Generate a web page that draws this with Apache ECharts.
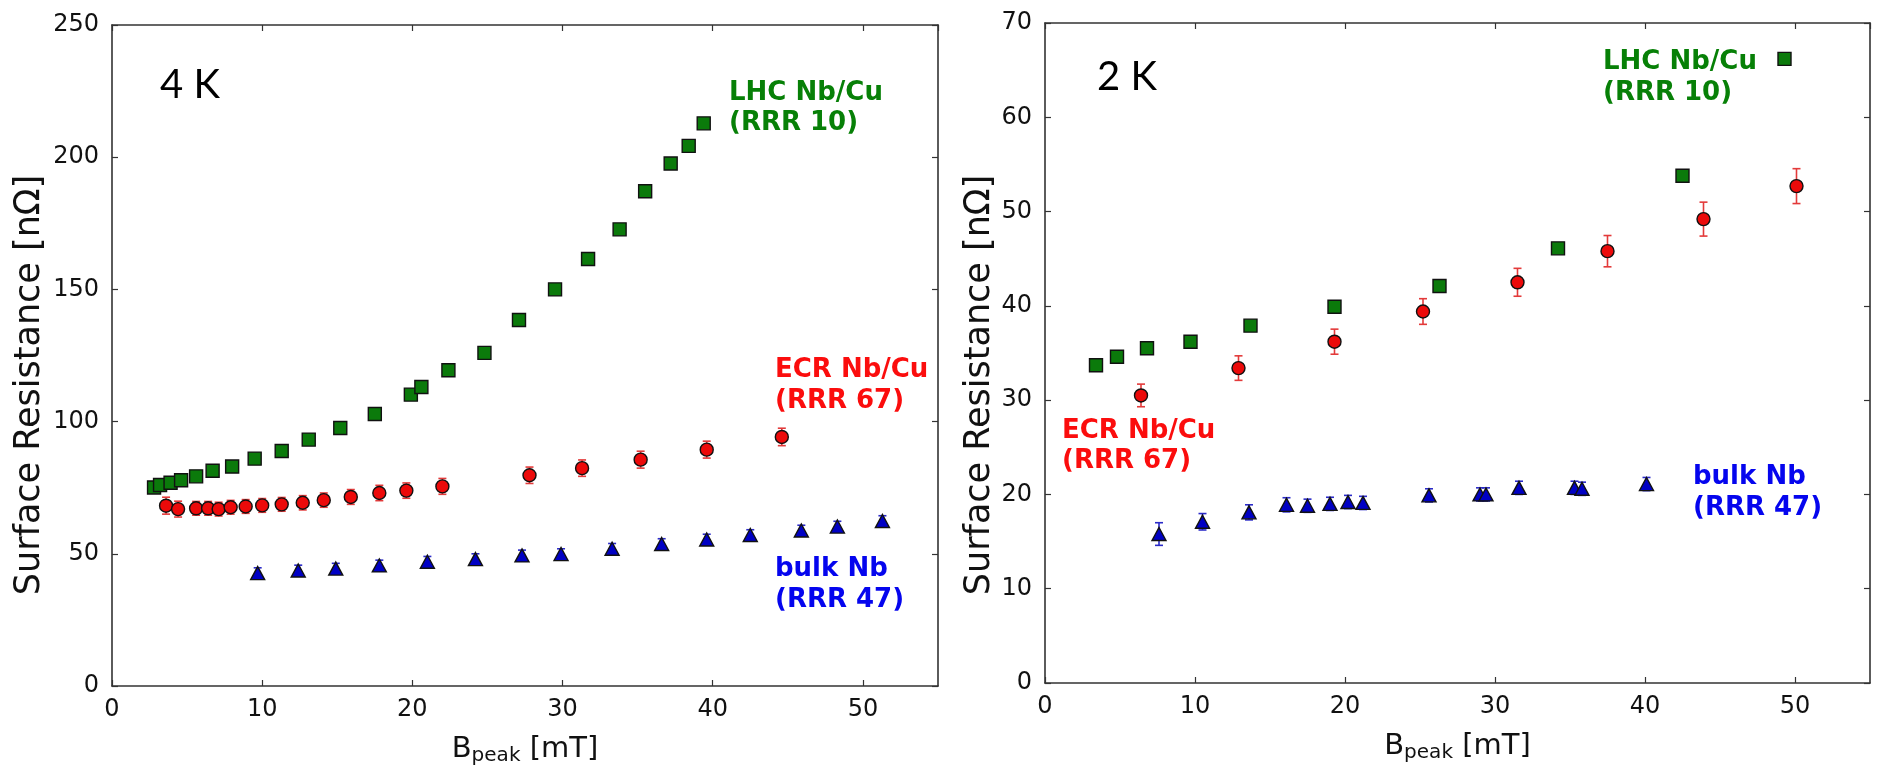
<!DOCTYPE html>
<html>
<head>
<meta charset="utf-8">
<script src="https://cdn.jsdelivr.net/npm/echarts@6/dist/echarts.min.js"></script>
<style>
html,body{margin:0;padding:0;background:#fff;}
#chart{width:1877px;height:772px;}
</style>
</head>
<body>
<div id="chart"></div>
<script>
// ---------- 4 K panel ----------
const lhc4K_B  = [2.8, 3.2, 3.9, 4.6, 5.6, 6.7, 8.0, 9.5, 11.3, 13.1, 15.2, 17.5, 19.9, 20.6, 22.4, 24.8, 27.1, 29.5, 31.7, 33.8, 35.5, 37.2, 38.4, 39.4];
const lhc4K_Rs = [75.1, 76.0, 76.9, 77.8, 79.3, 81.4, 83.0, 86.0, 88.9, 93.2, 97.6, 102.9, 110.2, 113.1, 119.4, 126.0, 138.4, 150.0, 161.5, 172.7, 187.1, 197.6, 204.3, 212.8];

const ecr4K_B   = [3.6, 4.4, 5.6, 6.4, 7.1, 7.9, 8.9, 10.0, 11.3, 12.7, 14.1, 15.9, 17.8, 19.6, 22.0, 27.8, 31.3, 35.2, 39.6, 44.6];
const ecr4K_Rs  = [68.2, 66.9, 67.2, 67.2, 66.9, 67.6, 67.9, 68.3, 68.7, 69.3, 70.3, 71.5, 73.0, 73.9, 75.5, 79.7, 82.4, 85.6, 89.4, 94.2];
const ecr4K_err = [3.2, 3.0, 2.6, 2.6, 2.6, 2.6, 2.6, 2.6, 2.6, 2.7, 2.7, 2.8, 2.9, 2.9, 3.0, 3.1, 3.1, 3.2, 3.2, 3.3];

const nb4K_B   = [9.7, 12.4, 14.9, 17.8, 21.0, 24.2, 27.3, 29.9, 33.3, 36.6, 39.6, 42.5, 45.9, 48.3, 51.3];
const nb4K_Rs  = [42.7, 43.7, 44.4, 45.6, 47.0, 48.0, 49.4, 49.9, 51.9, 53.7, 55.4, 57.1, 58.8, 60.3, 62.4];
const nb4K_err = [2.0, 2.0, 2.0, 2.0, 2.0, 2.0, 2.0, 2.0, 2.0, 2.0, 2.0, 2.0, 2.0, 2.0, 2.0];

// ---------- 2 K panel ----------
const lhc2K_B  = [3.4, 4.8, 6.8, 9.7, 13.7, 19.3, 26.3, 34.2, 42.5, 49.3];
const lhc2K_Rs = [33.7, 34.6, 35.5, 36.2, 37.9, 39.9, 42.1, 46.1, 53.8, 66.2];

const ecr2K_B   = [6.4, 12.9, 19.3, 25.2, 31.5, 37.5, 43.9, 50.1];
const ecr2K_Rs  = [30.5, 33.4, 36.2, 39.4, 42.5, 45.8, 49.2, 52.7];
const ecr2K_err = [1.2, 1.3, 1.33, 1.36, 1.48, 1.66, 1.8, 1.85];

const nb2K_B   = [7.6, 10.5, 13.6, 16.1, 17.5, 19.0, 20.2, 21.2, 25.6, 29.0, 29.4, 31.6, 35.3, 35.8, 40.1];
const nb2K_Rs  = [15.8, 17.1, 18.1, 18.9, 18.8, 19.0, 19.2, 19.1, 19.9, 20.0, 20.0, 20.7, 20.7, 20.6, 21.1];
const nb2K_err = [1.2, 0.87, 0.8, 0.75, 0.7, 0.7, 0.7, 0.7, 0.7, 0.7, 0.7, 0.7, 0.7, 0.7, 0.7];

// ---------- axes / labels ----------
const xRange = [0, 55, 10];
const yRange4K = [0, 250, 50];
const yRange2K = [0, 70, 10];
const yTitle = 'Surface Resistance [nΩ]';
const panelLabels = ['4 K', '2 K'];
const seriesLabels = {
  lhc: 'LHC Nb/Cu\n(RRR 10)',
  ecr: 'ECR Nb/Cu\n(RRR 67)',
  nb: 'bulk Nb\n(RRR 47)'
};

const FONT = 'DejaVu Sans';
const AX = '#333333';
const C = {
  green: '#0b7a0b', greenText: '#078007',
  red: '#ec0a0a', redText: '#fb0d0d', redErr: '#e33a3a',
  blue: '#0000c4', blueText: '#0505ee', blueErr: '#2a2ac8'
};

const zip = (a, b, e) => a.map((v, i) => e ? [v, b[i], e[i]] : [v, b[i]]);

function xAxes(grid, pos) {
  const main = pos === 'bottom';
  return {
    gridIndex: grid, type: 'value', position: pos,
    min: xRange[0], max: xRange[1], interval: xRange[2],
    axisLine: { show: true, onZero: false, lineStyle: { color: AX, width: 1.6 } },
    axisTick: { show: true, inside: true, length: 6, lineStyle: { color: AX, width: 1.2 } },
    axisLabel: { show: main, showMaxLabel: false, fontFamily: FONT, fontSize: 24, color: '#111', margin: 12 },
    splitLine: { show: false },
    name: main ? '{b|B}{s|peak}{b| [mT]}' : '',
    nameLocation: 'middle', nameGap: 46,
    nameTextStyle: {
      rich: {
        b: { fontFamily: FONT, fontSize: 29, color: '#111', lineHeight: 34 },
        s: { fontFamily: FONT, fontSize: 20, color: '#111', lineHeight: 16, verticalAlign: 'bottom' }
      }
    }
  };
}
function yAxes(grid, pos, r) {
  const main = pos === 'left';
  return {
    gridIndex: grid, type: 'value', position: pos,
    min: r[0], max: r[1], interval: r[2],
    axisLine: { show: true, onZero: false, lineStyle: { color: AX, width: 1.6 } },
    axisTick: { show: true, inside: true, length: 6, lineStyle: { color: AX, width: 1.2 } },
    axisLabel: { show: main, fontFamily: FONT, fontSize: 24, color: '#111', margin: 13 },
    splitLine: { show: false }
  };
}

function errRender(color) {
  return function (params, api) {
    const x = api.value(0), y = api.value(1), e = api.value(2);
    const p1 = api.coord([x, y + e]);
    const p2 = api.coord([x, y - e]);
    const w = 4;
    const st = { stroke: color, lineWidth: 1.6 };
    return {
      type: 'group',
      children: [
        { type: 'line', shape: { x1: p1[0], y1: p1[1], x2: p2[0], y2: p2[1] }, style: st },
        { type: 'line', shape: { x1: p1[0] - w, y1: p1[1], x2: p1[0] + w, y2: p1[1] }, style: st },
        { type: 'line', shape: { x1: p2[0] - w, y1: p2[1], x2: p2[0] + w, y2: p2[1] }, style: st }
      ]
    };
  };
}

function scatter(name, data, xi, yi, symbol, size, color) {
  return {
    name, type: 'scatter', xAxisIndex: xi, yAxisIndex: yi, data,
    symbol, symbolSize: size, z: 5,
    itemStyle: { color, borderColor: '#111', borderWidth: 1.4, opacity: 1 },
    emphasis: { disabled: true }
  };
}
function errbars(data, xi, yi, color) {
  return {
    type: 'custom', xAxisIndex: xi, yAxisIndex: yi, data, z: 3,
    renderItem: errRender(color), silent: true
  };
}

function txt(text, x, top, color, opts) {
  return {
    type: 'text', x, y: top, z: 10,
    style: Object.assign({
      text, fill: color, fontFamily: FONT, fontWeight: 'bold', fontSize: 26,
      lineHeight: 30.5, verticalAlign: 'top', align: 'left'
    }, opts || {})
  };
}
function vtitle(cx, cy) {
  return {
    type: 'text', x: cx, y: cy, rotation: Math.PI / 2, z: 10,
    style: { text: yTitle, fill: '#111', fontFamily: FONT, fontSize: 35, align: 'center', verticalAlign: 'middle' }
  };
}

const option = {
  backgroundColor: '#ffffff',
  animation: false,
  grid: [
    { left: 112, top: 25, width: 826, height: 661, containLabel: false },
    { left: 1045, top: 23, width: 825, height: 660, containLabel: false }
  ],
  xAxis: [xAxes(0, 'bottom'), xAxes(0, 'top'), xAxes(1, 'bottom'), xAxes(1, 'top')],
  yAxis: [yAxes(0, 'left', yRange4K), yAxes(0, 'right', yRange4K),
          yAxes(1, 'left', yRange2K), yAxes(1, 'right', yRange2K)],
  series: [
    errbars(zip(ecr4K_B, ecr4K_Rs, ecr4K_err), 0, 0, C.redErr),
    errbars(zip(nb4K_B, nb4K_Rs, nb4K_err), 0, 0, C.blueErr),
    scatter('LHC 4K', zip(lhc4K_B, lhc4K_Rs), 0, 0, 'rect', 13, C.green),
    scatter('ECR 4K', zip(ecr4K_B, ecr4K_Rs), 0, 0, 'circle', 13, C.red),
    scatter('bulk 4K', zip(nb4K_B, nb4K_Rs), 0, 0, 'triangle', [14, 13], C.blue),

    errbars(zip(ecr2K_B, ecr2K_Rs, ecr2K_err), 2, 2, C.redErr),
    errbars(zip(nb2K_B, nb2K_Rs, nb2K_err), 2, 2, C.blueErr),
    scatter('LHC 2K', zip(lhc2K_B, lhc2K_Rs), 2, 2, 'rect', 13, C.green),
    scatter('ECR 2K', zip(ecr2K_B, ecr2K_Rs), 2, 2, 'circle', 13, C.red),
    scatter('bulk 2K', zip(nb2K_B, nb2K_Rs), 2, 2, 'triangle', [14, 13], C.blue)
  ],
  graphic: [
    vtitle(30, 385),
    vtitle(980, 385),
    txt(panelLabels[0], 160, 85, '#000', { fontFamily: 'Lato', fontWeight: 'normal', fontSize: 40, verticalAlign: 'middle', lineHeight: 40 }),
    txt(panelLabels[1], 1097, 77, '#000', { fontFamily: 'Lato', fontWeight: 'normal', fontSize: 40, verticalAlign: 'middle', lineHeight: 40 }),
    txt(seriesLabels.lhc, 729, 77.5, C.greenText),
    txt(seriesLabels.ecr, 775, 355, C.redText),
    txt(seriesLabels.nb, 775, 554, C.blueText),
    txt(seriesLabels.lhc, 1603, 47, C.greenText),
    txt(seriesLabels.ecr, 1062, 415.5, C.redText),
    txt(seriesLabels.nb, 1693, 462, C.blueText)
  ]
};

const chart = echarts.init(document.getElementById('chart'), null, { renderer: 'canvas' });
chart.setOption(option);
</script>
</body>
</html>
